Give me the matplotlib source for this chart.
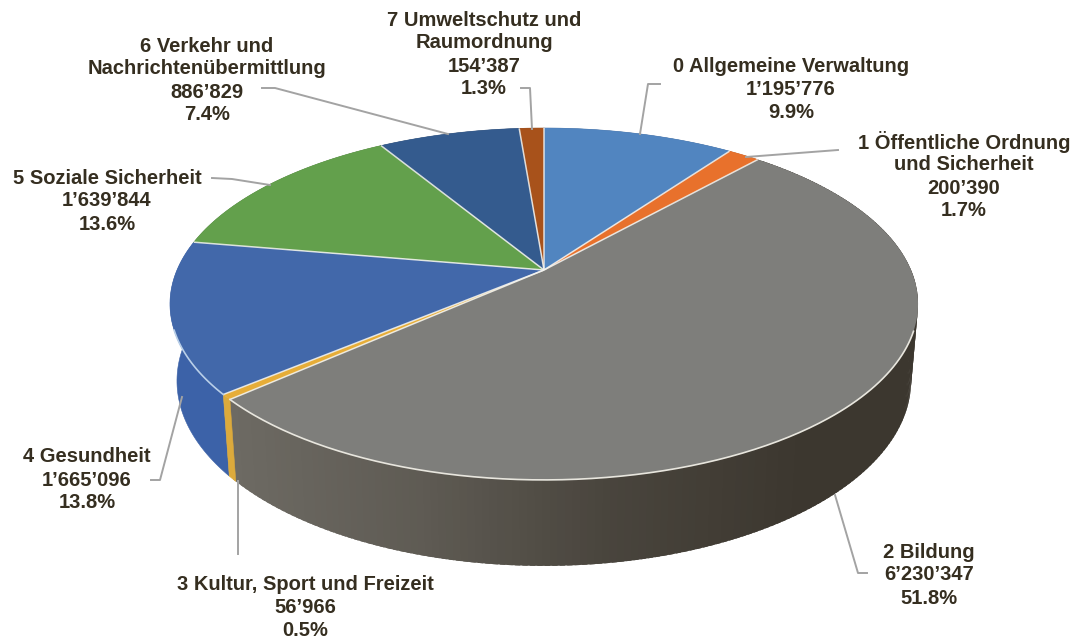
import numpy as np
import matplotlib
matplotlib.use("Agg")
import matplotlib.pyplot as plt

# Data
names = [
    "0 Allgemeine Verwaltung",
    "1 Öffentliche Ordnung\nund Sicherheit",
    "2 Bildung",
    "3 Kultur, Sport und Freizeit",
    "4 Gesundheit",
    "5 Soziale Sicherheit",
    "6 Verkehr und\nNachrichtenübermittlung",
    "7 Umweltschutz und\nRaumordnung",
]
values = np.array([1195776, 200390, 6230347, 56966, 1665096, 1639844, 886829, 154387])
top_colors = ["#5185c0", "#e8712c", "#7e7e7b", "#e6ad38", "#4268aa", "#63a04c", "#345b8e", "#a8521b"]
side_colors = ["#3f6ca3", "#c25d22", "#4a463f", "#dcaa3c", "#3c62a8", "#4f853c", "#2a4a75", "#8a4316"]

# Label placement in pixels: centre x, first line y, line step
label_pos = [(791, 66, 23.5), (964, 142, 23), (929, 552, 23), (305, 585, 22.5),
             (87, 457, 23), (107, 178, 23), (207, 46, 23), (484, 20, 23)]
leaders = [
    [(660, 84), (648, 84), (640, 134)],
    [(838, 150), (746, 157)],
    [(835, 495), (858, 573), (867, 573)],
    [(238, 481), (238, 554)],
    [(182, 397), (160, 480), (151, 480)],
    [(212, 178), (232, 179), (270, 185)],
    [(262, 88), (275, 88), (448, 134)],
    [(521, 88), (530, 88), (532, 129)],
]

# Perspective of the top disc
x0, y0 = 544, 270
a, b, k = 367, 169.4, 0.193
# Ellipses of the top rim and of the lower rim
tx, ty, trx, try_ = 545, 304, 375, 176
bx, by, brx, bry = 545, 381, 368, 185


def top_point(t):
    X, Y = np.sin(t), np.cos(t)
    return x0 + a * X / (1 + k * Y), y0 - b * Y / (1 + k * Y)


def low_point(t):
    px, py = top_point(t)
    return bx + brx * (px - tx) / trx, by + bry * (py - ty) / try_


def fmt(v):
    return f"{v:,}".replace(",", "’")


fig = plt.figure(figsize=(10.84, 6.39), dpi=100)
ax = fig.add_axes([0, 0, 1, 1])
ax.set_xlim(0, 1084)
ax.set_ylim(639, 0)
ax.axis("off")

edges = np.concatenate([[0], np.cumsum(values)]) / values.sum() * 2 * np.pi

# Sides first, the top covers whatever faces away
for i in range(len(values)):
    t = np.linspace(edges[i], edges[i + 1], max(int((edges[i + 1] - edges[i]) * 60), 3))
    if i == 2:
        # the long grey side gets darker to the right, pieces overlap so no seams show
        for t1, t2 in zip(t[:-1], t[1:]):
            t3 = t2 + 0.012
            ux, uy = top_point(np.array([t1, t3]))
            lx, ly = low_point(np.array([t1, t3]))
            g = np.interp(ux.mean(), [230, 420, 600, 800, 920], [0, 0.3, 0.72, 1, 1])
            c = np.array([0x6d, 0x6a, 0x63]) * (1 - g) + np.array([0x3c, 0x37, 0x2f]) * g
            ax.fill([ux[0], ux[1], lx[1], lx[0]], [uy[0], uy[1], ly[1], ly[0]],
                    facecolor=tuple(c / 255), edgecolor="none", zorder=1)
    else:
        ux, uy = top_point(t)
        lx, ly = low_point(t)
        ax.fill(np.r_[ux, lx[::-1]], np.r_[uy, ly[::-1]], color=side_colors[i], lw=0.4, zorder=1.5 if i == 3 else 1)

# Top of the pie
for i in range(len(values)):
    t = np.linspace(edges[i], edges[i + 1], max(int((edges[i + 1] - edges[i]) * 60), 3))
    px, py = top_point(t)
    ax.fill(np.r_[x0, px], np.r_[y0, py], facecolor=top_colors[i], edgecolor="none", zorder=2)

# White separators and the lit rim at the front
for e in edges[:-1]:
    px, py = top_point(e)
    ax.plot([x0, px], [y0, py], color="#f4f4f0", lw=1.1, alpha=0.85, zorder=3, solid_capstyle="butt")
t_rim = np.linspace(edges[2], edges[3], 300)
px, py = top_point(t_rim)
keep = py > 330
ax.plot(px[keep], py[keep], color="#e8e6de", lw=1.2, zorder=3)
t_rim = np.linspace(edges[4], edges[5], 100)
px, py = top_point(t_rim)
keep = py > 330
ax.plot(px[keep], py[keep], color="#b9cfe8", lw=1.2, zorder=3)

# Leader lines
for line in leaders:
    ax.plot([p[0] for p in line], [p[1] for p in line], color="#a3a3a3", lw=1.4, zorder=4)

# Labels
pct = values / values.sum() * 100
for i in range(len(values)):
    lines = names[i].split("\n") + [fmt(int(values[i])), f"{pct[i]:.1f}%"]
    cx, cy, step = label_pos[i]
    for j, s in enumerate(lines):
        ax.text(cx, cy + j * step, s, ha="center", va="center", fontsize=14.5,
                fontweight="bold", family="Liberation Sans", color="#352e20", zorder=5)

fig.savefig("out.png", dpi=100)
